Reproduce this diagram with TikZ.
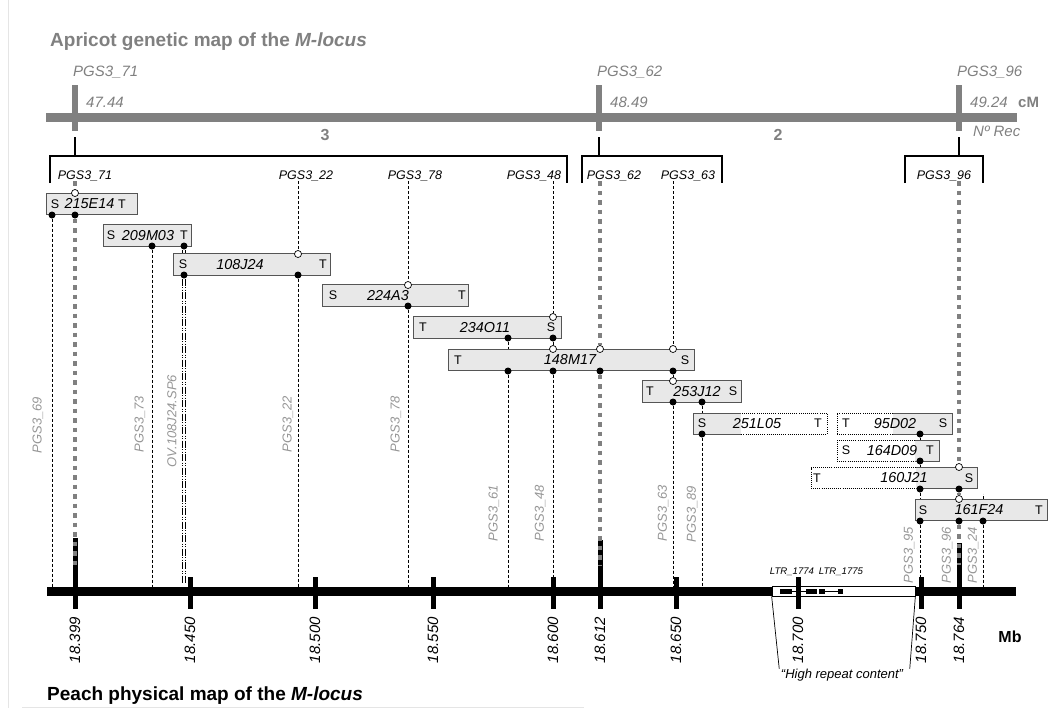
\documentclass[tikz,border=0pt]{standalone}
\usepackage{fontspec}
\setmainfont{Liberation Sans}
\usetikzlibrary{positioning,calc}
\definecolor{mapgray}{RGB}{128,128,128}
\definecolor{lblgray}{RGB}{150,150,150}
\definecolor{bacfill}{RGB}{232,232,232}
\definecolor{bacedge}{RGB}{85,85,85}
\tikzset{
  bacbox/.style={draw=bacedge, fill=bacfill, line width=0.9pt, inner sep=0pt, minimum height=21.5pt},
  dotbox/.style={draw=black, fill=white, line width=0.8pt, dash pattern=on 0.8pt off 1.3pt,
    inner sep=0pt, minimum height=21pt},
  bacname/.style={font=\fontsize{14.4}{14.4}\selectfont\itshape, inner sep=0pt},
  endtag/.style={font=\fontsize{12.5}{12.5}\selectfont, inner sep=0pt},
  hit/.style={circle, fill=black, inner sep=0pt, minimum size=7pt},
  miss/.style={circle, draw=black, fill=white, line width=0.7pt, inner sep=0pt, minimum size=7pt},
  mkdash/.style={line width=1pt, dash pattern=on 3pt off 2pt},
  ovline/.style={line width=0.9pt, dash pattern=on 7pt off 1.5pt on 1pt off 1.5pt on 1pt off 1.5pt},
  anchorline/.style={draw=mapgray, line width=4.5pt, dash pattern=on 4.5pt off 5pt},
  brk/.style={line width=2.4pt},
  gentick/.style={draw=mapgray, line width=5.5pt},
  phystick/.style={line width=5pt},
  genlbl/.style={font=\fontsize{15}{15}\selectfont\itshape, text=mapgray, inner sep=0pt},
  recnum/.style={font=\fontsize{16}{16}\selectfont\bfseries, text=mapgray, inner sep=0pt},
  mklbl/.style={font=\fontsize{12.5}{12.5}\selectfont\itshape, inner sep=0pt},
  rotlbl/.style={font=\fontsize{13}{13}\selectfont\itshape, text=lblgray, rotate=90, inner sep=0pt},
  mblbl/.style={font=\fontsize{15}{15}\selectfont\itshape, rotate=90, anchor=east, inner sep=0pt},
  titlelbl/.style={font=\fontsize{19}{19}\selectfont\bfseries, anchor=base west, inner sep=0pt}
}
\begin{document}
\begin{tikzpicture}[x=1pt, y=-1pt]
\useasboundingbox (0,0) rectangle (1061,720);
\draw[black!10, line width=0.8pt] (8,0) -- (8,708);
\draw[black!10, line width=0.8pt] (22,707) -- (584,707);

% genetic map
\node[titlelbl, text=mapgray] (gtitle) at (50,46) {Apricot genetic map of the \textit{M-locus}};
\node[fill=mapgray, minimum width=971pt, minimum height=9pt, inner sep=0pt] (gmap) at (531.5,117) {};
\foreach \x/\m/\cm in {75/71/47.44, 599/62/48.49, 959/96/49.24} {
  \draw[gentick] (\x,85) -- (\x,131);
  \node[genlbl, anchor=west] (g\m) at (\x-2,72.5) {PGS3\_\m};
  \node[genlbl, anchor=west] (cm\m) at (\x+11,102) {\cm};
  \draw[brk] (\x,137) -- (\x,156);
}
\node[recnum, anchor=west, font=\fontsize{15}{15}\selectfont\bfseries] (cmunit) at (1018,102) {cM};
\node[genlbl, anchor=west] (nrec) at (973,131) {Nº Rec};
\node[recnum] (r3) at (325,135) {3};
\node[recnum] (r2) at (778,135) {2};

\draw[brk] (50,183) -- (50,156) -- (567,156) -- (567,183);
\draw[brk] (582,183) -- (582,156) -- (722,156) -- (722,183);
\draw[brk] (905,183) -- (905,156) -- (983,156) -- (983,183);

\foreach \n/\x in {71/85, 22/306, 78/415, 48/534, 62/614, 63/688, 96/944}
  \node[mklbl] (k\n) at (\x,176) {PGS3\_\n};

% physical map
\node[titlelbl] (ptitle) at (47,700) {Peach physical map of the \textit{M-locus}};
\node[fill=black, minimum width=969pt, minimum height=9pt, inner sep=0pt] (pmap) at (531,591.5) {};
\node[draw=black, fill=white, line width=0.7pt, minimum width=143pt, minimum height=10pt, inner sep=0pt] (hrbox) at (843.5,591) {};
\fill (780,589) rectangle (792,593.5);
\fill (806,589) rectangle (817,593.5);
\fill (819,589) rectangle (825,593.5);
\fill (838,589) rectangle (843,593.5);
\draw[line width=0.8pt] (792,591) -- (806,591);
\draw[line width=0.8pt] (825,591) -- (838,591);
\node[font=\fontsize{9.6}{9.6}\selectfont\itshape, inner sep=0pt] (ltr4) at (792,572) {LTR\_1774};
\node[font=\fontsize{9.6}{9.6}\selectfont\itshape, inner sep=0pt] (ltr5) at (841,572) {LTR\_1775};

\foreach \x/\top/\v [count=\i] in {75/538/18.399, 190/577/18.450, 315/577/18.500, 433/577/18.550,
    553/577/18.600, 600/540/18.612, 676/577/18.650, 798/577/18.700, 921/577/18.750, 959/543/18.764} {
  \draw[phystick] (\x,\top) -- (\x,609);
  \node[mblbl] (mb\i) at (\x,617) {\v};
}
\node[font=\fontsize{16}{16}\selectfont\bfseries, inner sep=0pt] (mbunit) at (1010,637) {Mb};
\node[font=\fontsize{13}{13}\selectfont\itshape, inner sep=0pt] (hrlbl) at (842,675) {“High repeat content”};
\draw[line width=0.7pt] (hrbox.south west) -- ([xshift=-1.5pt]hrlbl.north west);
\draw[line width=0.7pt] (hrbox.south east) -- ([xshift=6.5pt]hrlbl.north east);

\foreach \t/\x/\y [count=\i] in {PGS3\_69/38/425, PGS3\_73/140/424, OV.108J24.SP6/172/421,
    PGS3\_22/288/424, PGS3\_78/396/424, PGS3\_61/494/513, PGS3\_48/540/513, PGS3\_63/663/513,
    PGS3\_89/692/514, PGS3\_95/909/555, PGS3\_96/947/555, PGS3\_24/973/555}
  \node[rotlbl] (v\i) at (\x,\y) {\t};

% BAC clones
\node[bacbox, minimum width=91pt] (b215) at (91.5,204) {};
\node[bacbox, minimum width=88pt] (b209) at (147,235.5) {};
\node[bacbox, minimum width=157pt] (b108) at (251.5,264.5) {};
\node[bacbox, minimum width=146pt] (b224) at (395,295.5) {};
\node[bacbox, minimum width=148pt] (b234) at (487,327.5) {};
\node[bacbox, minimum width=246pt] (b148) at (571,360) {};
\node[bacbox, minimum width=99pt] (b253) at (691.5,391.5) {};
\node[dotbox, minimum width=134pt] (b251) at (760,423.5) {};
\node[dotbox, minimum width=115pt] (b95) at (894.5,423.5) {};
\node[dotbox, minimum width=102pt] (b164) at (888,450.5) {};
\node[dotbox, minimum width=166pt] (b160) at (894,478) {};
\node[bacbox, minimum width=132pt] (b161) at (981,510) {};

\fill[bacfill] (693,413) rectangle (741,434);
\draw[bacedge, line width=0.9pt] (741,413) -- (693,413) -- (693,434) -- (741,434);
\fill[bacfill] (893,413) rectangle (952,434);
\draw[bacedge, line width=0.9pt] (893,413) -- (952,413) -- (952,434) -- (893,434);
\fill[bacfill] (915,440) rectangle (939,461);
\draw[bacedge, line width=0.9pt] (915,440) -- (939,440) -- (939,461) -- (915,461);
\fill[bacfill] (916,467.5) rectangle (977,488.5);
\draw[bacedge, line width=0.9pt] (916,467.5) -- (977,467.5) -- (977,488.5) -- (916,488.5);

\foreach \n/\t/\x/\y in {n215/215E14/89.5/204, n209/209M03/148/235.5, n108/108J24/240/264.5,
    n224/224A3/388/295.5, n234/234O11/485/327.5, n148/148M17/570/360, n253/253J12/697/391.5,
    n251/251L05/757/423.5, n95/95D02/895/423.5, n164/164D09/892/450.5, n160/160J21/904/478,
    n161/161F24/979/510}
  \node[bacname] (\n) at (\x,\y) {\t};

\foreach \n/\t/\x/\y in {s215/S/55/204, t215/T/122/204, s209/S/111/235.5, t209/T/184/235.5,
    s108/S/183/264.5, t108/T/323/264.5, s224/S/333/295.5, t224/T/462/295.5,
    t234/T/423/327.5, s234/S/551/327.5, t148/T/458/360, s148/S/685/360,
    t253/T/650/391.5, s253/S/733/391.5, s251/S/702/423.5, t251/T/818/423.5,
    t95/T/846/423.5, s95/S/943/423.5, s164/S/846/450.5, t164/T/930/450.5,
    t160/T/817/478, s160/S/969/478, s161/S/923/510, t161/T/1039/510}
  \node[endtag] (\n) at (\x,\y) {\t};

% hits on the clone ends
\foreach \n/\x/\y in {o215/75/193, o108/298/254, o224/408/285, o234/553/317,
    o148a/553/349, o148b/600/349, o148c/673/349, o253/673/381, o160/959/467, o161/959/499}
  \node[miss] (\n) at (\x,\y) {};
\foreach \n/\x/\y in {f215a/52/215, f215b/75/215, f209a/152/246, f209b/184/246,
    f108a/184/275, f108b/298/275, f224/408/306, f234a/508/338, f234b/553/338,
    f148a/508/371, f148b/553/371, f148c/600/371, f148d/673/371, f253a/673/402, f253b/702/402,
    f251/702/434, f95/920/434, f164/920/461, f160a/920/489, f160b/959/489,
    f161a/920/521, f161b/959/521, f161c/983/521}
  \node[hit] (\n) at (\x,\y) {};

\coordinate (e71) at (75,565);
\coordinate (e62) at (600,565);
\coordinate (e96) at (959,565);

% marker lines
\draw[anchorline] (o215 |- k71.south) -- (o215);
\draw[anchorline] (f215b) -- (e71);
\draw[anchorline] (o148b |- k62.south) -- (o148b);
\draw[anchorline] (f148c) -- (e62);
\draw[anchorline] (o160 |- k96.south) -- (o160);
\draw[anchorline] (f160b) -- (o161);
\draw[anchorline] (f161b) -- (e96);
\draw[mkdash] (f215a) -- (f215a |- pmap.north);
\draw[mkdash] (f209a) -- (f209a |- pmap.north);
\foreach \s in {-1.6pt, 1.6pt} {
  \draw[ovline, transform canvas={xshift=\s}] (f209b) -- (f209b |- b108.north);
  \draw[ovline, transform canvas={xshift=\s}] (f108a) -- ([yshift=3pt]f108a |- pmap.north);
}
\draw[mkdash] (o108 |- k22.south) -- (o108);
\draw[mkdash] (f108b) -- (f108b |- pmap.north);
\draw[mkdash] (o224 |- k78.south) -- (o224);
\draw[mkdash] (f224) -- (f224 |- pmap.north);
\draw[mkdash] (f234a) -- (f234a |- b148.north);
\draw[mkdash] (f148a) -- (f148a |- pmap.north);
\draw[mkdash] (o234 |- k48.south) -- (o234);
\draw[mkdash] (f234b) -- (o148a);
\draw[mkdash] (f148b) -- (f148b |- pmap.north);
\draw[mkdash] (o148c |- k63.south) -- (o148c);
\draw[mkdash] (f148d) -- (o253);
\draw[mkdash] (f253a) -- (f253a |- pmap.north);
\draw[mkdash] (f253b) -- (f253b |- b251.north);
\draw[mkdash] (f251) -- (f251 |- pmap.north);
\draw[mkdash] (f95) -- (f95 |- b164.north);
\draw[mkdash] (f164) -- (f164 |- b160.north);
\draw[mkdash] (f160a) -- (f160a |- b161.north);
\draw[mkdash] (f161a) -- (f161a |- pmap.north);
\draw[mkdash] (f161c) -- (f161c |- pmap.north);
\draw[mkdash] (f161c |- b161.north) -- ++(0,-5);
\end{tikzpicture}
\end{document}
